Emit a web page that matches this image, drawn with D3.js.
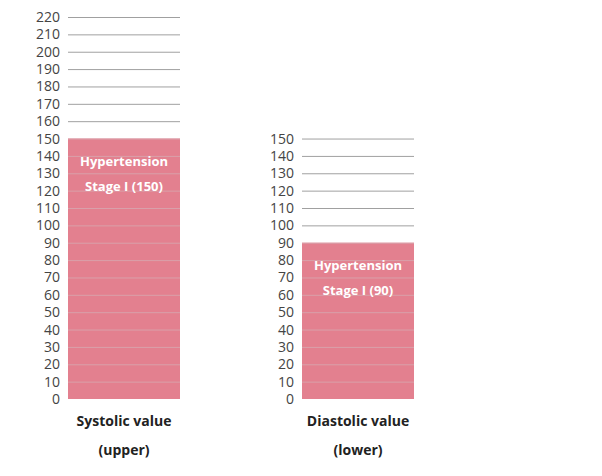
<!DOCTYPE html>
<html><head><meta charset="utf-8">
<script src="https://cdn.jsdelivr.net/npm/d3@7"></script>
<style>body{margin:0;background:#fff;font-family:"Open Sans",sans-serif}</style>
</head><body><svg id="chart" width="602" height="476"></svg>
<script>
// chart data
let panels = ["Systolic value", "Diastolic value"];
let subLabels = ["(upper)", "(lower)"];
let values = [150, 90];
let axisMax = [220, 150];
let barText = ["Hypertension", "Stage I"];

let svg = d3.select("#chart");
let y0 = 399, unit = (399 - 17) / 220;
let lefts = [68, 302];
let barW = 112;

panels.forEach((name, i) => {
  let max = axisMax[i];
  let y = d3.scaleLinear().domain([0, max]).range([y0, y0 - max * unit]);
  let g = svg.append("g");
  let ticks = d3.range(0, max + 1, 10);
  let x = lefts[i];

  g.append("rect")
    .attr("x", x).attr("width", barW)
    .attr("y", y(values[i])).attr("height", y0 - y(values[i]))
    .attr("fill", "#e3808f");

  g.selectAll("line.grid").data(ticks.filter(t => t > 0)).enter().append("line")
    .attr("x1", x).attr("x2", x + barW)
    .attr("y1", d => y(d) + 0.5).attr("y2", d => y(d) + 0.5)
    .attr("stroke", d => d <= values[i] ? "#d9a0aa" : "#a0a0a0")
    .attr("stroke-width", 1);

  g.selectAll("text.tick").data(ticks).enter().append("text")
    .attr("x", x - 8).attr("y", d => y(d) + 5)
    .attr("text-anchor", "end")
    .attr("font-size", 14).attr("fill", "#444")
    .text(d => d);

  let cx = x + barW / 2;
  let top = y(values[i]);
  g.append("text").attr("x", cx).attr("y", top + 27)
    .attr("text-anchor", "middle").attr("font-size", 13).attr("font-weight", "bold")
    .attr("fill", "#fff").text(barText[0]);
  g.append("text").attr("x", cx).attr("y", top + 52)
    .attr("text-anchor", "middle").attr("font-size", 13).attr("font-weight", "bold")
    .attr("fill", "#fff").text(barText[1] + " (" + values[i] + ")");

  g.append("text").attr("x", cx).attr("y", 426)
    .attr("text-anchor", "middle").attr("font-size", 14).attr("font-weight", "bold")
    .attr("fill", "#222").text(name);
  g.append("text").attr("x", cx).attr("y", 455)
    .attr("text-anchor", "middle").attr("font-size", 14).attr("font-weight", "bold")
    .attr("fill", "#222").text(subLabels[i]);
});
</script></body></html>
